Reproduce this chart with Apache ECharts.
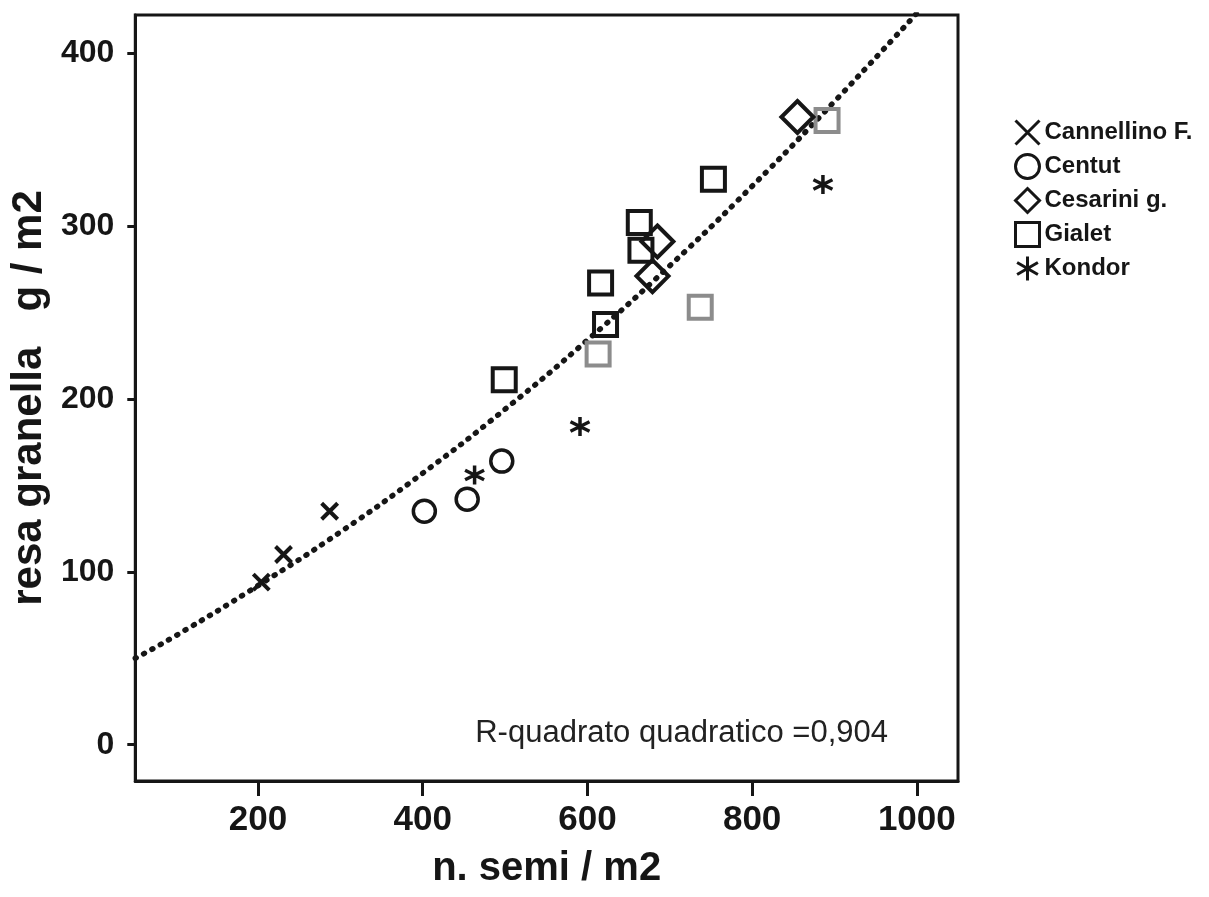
<!DOCTYPE html>
<html>
<head>
<meta charset="utf-8">
<script src="https://cdn.jsdelivr.net/npm/echarts@6/dist/echarts.min.js"></script>
<style>
html,body{margin:0;padding:0;background:#fff;}
#c{width:1209px;height:897px;}
</style>
</head>
<body>
<div id="c"></div>
<script>
// ---- data ----
const xTicks = [200, 400, 600, 800, 1000];
const yTicks = [0, 100, 200, 300, 400];

const cannellinoX = [204, 231, 287];
const cannellinoY = [94, 110, 135];

const centutX = [402, 454, 496];
const centutY = [135, 142, 164];

const cesariniX = [855, 685, 679];
const cesariniY = [363, 291, 271];

const gialetX = [753, 663, 665, 616, 622, 499];
const gialetY = [327, 302, 286, 267, 243, 211];

const gialetGreyX = [613, 737, 891];
const gialetGreyY = [226, 253, 361];

const kondorX = [463, 591, 886];
const kondorY = [156, 184, 324];

const fitX = [51, 100, 200, 300, 400, 500, 600, 700, 800, 900, 1000];
const fitY = [50, 63, 92, 123, 157, 194, 234, 277, 323, 372, 423];

const seriesNames = ['Cannellino F.', 'Centut', 'Cesarini g.', 'Gialet', 'Kondor'];
const r2Text = 'R-quadrato quadratico =0,904';

function pairs(xs, ys) { return xs.map((x, i) => [x, ys[i]]); }

const FONT = 'Liberation Sans, Arial, sans-serif';
const INK = '#161616';

const crossPath = 'path://M2,2L18,18M18,2L2,18';
const asteriskPath = 'path://M10,0L10,20M1.34,5L18.66,15M1.34,15L18.66,5';

const chart = echarts.init(document.getElementById('c'), null, {renderer: 'canvas'});

chart.setOption({
  animation: false,
  backgroundColor: '#ffffff',
  grid: {
    left: 132, right: 251, top: 15, bottom: 116,
    show: true, borderColor: INK, borderWidth: 3, backgroundColor: '#ffffff'
  },
  legend: {
    data: seriesNames,
    orient: 'vertical',
    left: 1009, top: 114,
    itemWidth: 24, itemHeight: 24, itemGap: 7,
    itemStyle: {borderWidth: 3, borderColor: INK, color: 'transparent'},
    textStyle: {fontFamily: FONT, fontSize: 24, fontWeight: 'bold', color: INK}
  },
  xAxis: {
    type: 'value', min: 51, max: 1050,
    splitLine: {show: false},
    axisLine: {onZero: false, lineStyle: {color: INK, width: 3}},
    axisTick: {length: 15, lineStyle: {color: INK, width: 3}, customValues: xTicks},
    axisLabel: {customValues: xTicks, margin: 22, fontFamily: FONT, fontSize: 35, fontWeight: 'bold', color: INK,
      formatter: v => String(v)},
    name: 'n. semi / m2', nameLocation: 'middle', nameGap: 68,
    nameTextStyle: {fontFamily: FONT, fontSize: 40, fontWeight: 'bold', color: INK}
  },
  yAxis: {
    type: 'value', min: -21, max: 422,
    splitLine: {show: false},
    axisLine: {lineStyle: {color: INK, width: 3}},
    axisTick: {length: 8, lineStyle: {color: INK, width: 3}, customValues: yTicks},
    axisLabel: {customValues: yTicks, margin: 21, fontFamily: FONT, fontSize: 32, fontWeight: 'bold', color: INK,
      formatter: v => String(v)},
    name: 'resa granella   g / m2', nameLocation: 'middle', nameGap: 85,
    nameTextStyle: {fontFamily: FONT, fontSize: 42, fontWeight: 'bold', color: INK}
  },
  graphic: [{
    type: 'text',
    style: {
      text: r2Text, x: 888, y: 733,
      align: 'right', verticalAlign: 'middle',
      font: 'normal 31px ' + FONT, fill: '#222'
    }
  }],
  series: [
    {
      type: 'line', name: 'fit', data: pairs(fitX, fitY),
      smooth: true, showSymbol: false, silent: true, z: 1,
      lineStyle: {color: INK, width: 5.5, type: [1, 8.5], cap: 'round'}
    },
    {
      type: 'scatter', name: seriesNames[0], data: pairs(cannellinoX, cannellinoY),
      symbol: crossPath, symbolSize: 16, z: 3,
      itemStyle: {color: 'transparent', borderColor: INK, borderWidth: 4, opacity: 1}
    },
    {
      type: 'scatter', name: seriesNames[1], data: pairs(centutX, centutY),
      symbol: 'circle', symbolSize: 22, z: 3,
      itemStyle: {color: 'transparent', borderColor: INK, borderWidth: 3.5, opacity: 1}
    },
    {
      type: 'scatter', name: seriesNames[2], data: pairs(cesariniX, cesariniY),
      symbol: 'diamond', symbolSize: 32, z: 3,
      itemStyle: {color: 'transparent', borderColor: INK, borderWidth: 4, opacity: 1}
    },
    {
      type: 'scatter', name: seriesNames[3], data: pairs(gialetX, gialetY),
      symbol: 'rect', symbolSize: 23, z: 3,
      itemStyle: {color: 'transparent', borderColor: INK, borderWidth: 4, opacity: 1}
    },
    {
      type: 'scatter', name: seriesNames[3], data: pairs(gialetGreyX, gialetGreyY),
      symbol: 'rect', symbolSize: 23, z: 2,
      itemStyle: {color: 'transparent', borderColor: '#8c8c8c', borderWidth: 4, opacity: 1}
    },
    {
      type: 'scatter', name: seriesNames[4], data: pairs(kondorX, kondorY),
      symbol: asteriskPath, symbolSize: 19, z: 3,
      itemStyle: {color: 'transparent', borderColor: INK, borderWidth: 3.5, opacity: 1}
    }
  ]
});
</script>
</body>
</html>
